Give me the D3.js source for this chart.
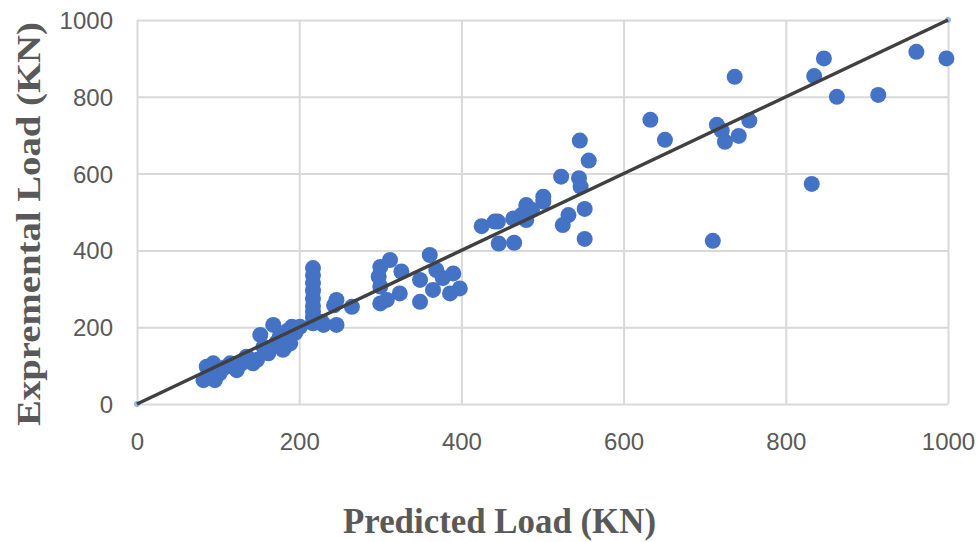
<!DOCTYPE html>
<html>
<head>
<meta charset="utf-8">
<script src="https://cdn.jsdelivr.net/npm/d3@7"></script>
<style>
  body { margin: 0; background: #fff; }
  svg { display: block; }
</style>
</head>
<body>
<div id="chart"></div>
<script>
const predicted = [
  82, 86, 94, 96, 102, 115, 123, 129, 135, 143,
  90, 108, 118, 138, 148, 158, 172, 183, 195,
  152, 156, 162, 168, 176, 180, 185, 189, 191, 201,
  217, 217, 217, 217, 217, 217, 217, 217, 217, 228,
  230, 243, 246, 246, 265,
  298, 300, 300, 300, 308, 312, 324, 326, 349, 349,
  361, 365, 369, 377, 386, 390, 398,
  425, 441, 445, 446, 465, 464, 474, 480, 480, 487,
  501, 501, 523, 525, 532, 545, 546, 547, 552, 552, 557,
  633, 651, 710, 715, 721, 725, 737, 742, 755,
  832, 835, 847, 863, 914, 961, 998
];
const experimental = [
  62, 97, 106, 62, 80, 106, 88, 106, 123, 106,
  85, 95, 100, 118, 115, 140, 160, 150, 185,
  180, 149, 132, 206, 175, 141, 190, 158, 201, 201,
  354, 335, 315, 295, 275, 255, 240, 225, 210, 214,
  206, 257, 271, 206, 253,
  332, 357, 306, 262, 271, 375, 288, 345, 323, 266,
  388, 297, 349, 328, 288, 340, 301,
  463, 475, 475, 418, 420, 483, 492, 518, 479, 505,
  540, 527, 592, 466, 492, 588, 686, 566, 508, 430, 634,
  740, 688, 425, 727, 712, 683, 852, 698, 738,
  573, 854, 900, 800, 805, 917, 900
];
const xTicks = [0, 200, 400, 600, 800, 1000];
const yTicks = [0, 200, 400, 600, 800, 1000];
const trendLine = [[0, 0], [1000, 1000]];

const width = 979, height = 542;
const margin = {top: 20, right: 31, bottom: 138, left: 137};
const innerWidth = width - margin.left - margin.right,
  innerHeight = height - margin.top - margin.bottom;

const data = predicted.map((p, i) => ({x: p, y: experimental[i]}));

const xScale = d3.scaleLinear().domain([0, 1000]).range([0, innerWidth]);
const yScale = d3.scaleLinear().domain([0, 1000]).range([innerHeight, 0]);
const fmt = d3.format('d');

const svg = d3.select('#chart').append('svg')
  .attr('width', width)
  .attr('height', height);

const chartInner = svg.append('g')
  .attr('transform', `translate(${margin.left},${margin.top})`);

// ----------------------------------
// GRIDLINES
// ----------------------------------
chartInner.append('g')
  .call(d3.axisBottom(xScale).tickValues(xTicks).tickSize(innerHeight).tickFormat(''))
  .call(g => g.select('.domain').remove())
  .call(g => g.selectAll('line').attr('stroke', '#d9d9d9').attr('stroke-width', 2));

chartInner.append('g')
  .call(d3.axisLeft(yScale).tickValues(yTicks).tickSize(-innerWidth).tickFormat(''))
  .call(g => g.select('.domain').remove())
  .call(g => g.selectAll('line').attr('stroke', '#d9d9d9').attr('stroke-width', 2));

// ----------------------------------
// TICK LABELS
// ----------------------------------
const yAxis = chartInner.append('g')
  .call(d3.axisLeft(yScale).tickValues(yTicks).tickSize(0).tickPadding(24).tickFormat(fmt));
yAxis.select('.domain').remove();
yAxis.selectAll('text')
  .style('font-family', '"Liberation Sans", Arial, sans-serif')
  .style('font-size', '24px')
  .attr('fill', '#595959')
  .attr('dy', '0.35em');

const xAxis = chartInner.append('g')
  .attr('transform', `translate(0,${innerHeight})`)
  .call(d3.axisBottom(xScale).tickValues(xTicks).tickSize(0).tickPadding(0).tickFormat(fmt));
xAxis.select('.domain').remove();
xAxis.selectAll('text')
  .style('font-family', '"Liberation Sans", Arial, sans-serif')
  .style('font-size', '24px')
  .attr('fill', '#595959')
  .attr('dy', 0)
  .attr('y', 46);

// ----------------------------------
// POINTS
// ----------------------------------
chartInner.selectAll('circle.pt')
  .data(data)
  .enter()
  .append('circle')
    .classed('pt', true)
    .attr('cx', d => xScale(d.x))
    .attr('cy', d => yScale(d.y))
    .attr('r', 8)
    .style('fill', '#4472c4');

// trend line endpoints (small light markers)
chartInner.selectAll('circle.end')
  .data(trendLine)
  .enter()
  .append('circle')
    .classed('end', true)
    .attr('cx', d => xScale(d[0]))
    .attr('cy', d => yScale(d[1]))
    .attr('r', 3)
    .style('fill', '#9db5e3');

const line = d3.line()
  .x(d => xScale(d[0]))
  .y(d => yScale(d[1]));

chartInner.append('path')
  .datum(trendLine)
  .attr('d', line)
  .style('stroke', '#404040')
  .style('stroke-width', 3.5)
  .style('fill', 'none');

// ----------------------------------
// AXIS TITLES
// ----------------------------------
svg.append('text')
  .text('Predicted Load (KN)')
  .style('font-family', '"Liberation Serif", "Times New Roman", serif')
  .style('font-size', '36px')
  .style('font-weight', 'bold')
  .attr('fill', '#595959')
  .attr('x', 343)
  .attr('y', 533)
  .attr('textLength', 313)
  .attr('lengthAdjust', 'spacingAndGlyphs');

svg.append('text')
  .text('Expremental Load (KN)')
  .style('font-family', '"Liberation Serif", "Times New Roman", serif')
  .style('font-size', '34px')
  .style('font-weight', 'bold')
  .attr('fill', '#595959')
  .attr('x', 0)
  .attr('y', 0)
  .attr('textLength', 404)
  .attr('lengthAdjust', 'spacingAndGlyphs')
  .attr('transform', 'translate(40,426) rotate(-90)');
</script>
</body>
</html>
